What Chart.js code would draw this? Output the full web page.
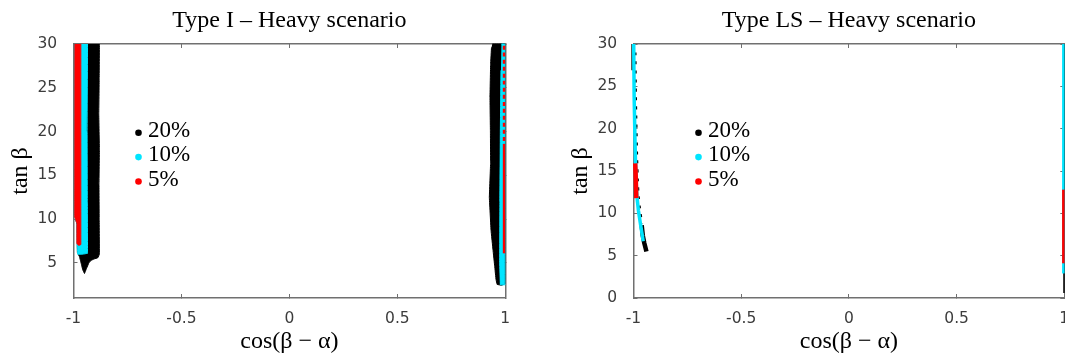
<!DOCTYPE html>
<html>
<head>
<meta charset="utf-8">
<title>Type I / Type LS – Heavy scenario</title>
<script src="https://cdn.jsdelivr.net/npm/chart.js@4.4.1/dist/chart.umd.min.js"></script>
<style>
  html, body { margin: 0; padding: 0; background: #fff; }
  #wrap { position: relative; width: 1065px; height: 356px; overflow: hidden; }
  canvas { position: absolute; top: 0; }
  #typeI { left: 0; }
  #typeLS { left: 540px; }
</style>
</head>
<body>
<div id="wrap">
  <canvas id="typeI" width="540" height="356"></canvas>
  <canvas id="typeLS" width="525" height="356"></canvas>
</div>
<script>
'use strict'

// Axis ticks
const xTicks = [-1, -0.5, 0, 0.5, 1];
const yTicksI = [5, 10, 15, 20, 25, 30];
const yTicksLS = [0, 5, 10, 15, 20, 25, 30];

const legendLabels = ['20%', '10%', '5%'];

// Type I – allowed regions, [cos(beta-alpha), tan beta]
// wrong-sign side (cos near -1): outline from top-left, down, round the bottom, up to top-right
const typeI_neg20 = [[-0.994, 30], [-0.994, 10.4], [-0.984, 9.4], [-0.982, 6.2], [-0.972, 5.7], [-0.964, 4.9], [-0.957, 4.2], [-0.949, 3.8], [-0.941, 4.3], [-0.929, 5.0], [-0.918, 5.3], [-0.905, 5.45], [-0.887, 5.6], [-0.880, 6.0], [-0.881, 10], [-0.882, 14], [-0.880, 18], [-0.883, 22], [-0.881, 26], [-0.880, 30]];
const typeI_neg10 = [[-0.994, 30], [-0.994, 10.3], [-0.984, 9.5], [-0.983, 7.0], [-0.981, 6.0], [-0.958, 6.0], [-0.935, 6.1], [-0.936, 12], [-0.937, 20], [-0.935, 30]];
const typeI_neg5 = [[-0.9935, 30], [-0.9935, 10.2], [-0.984, 9.5], [-0.984, 7.2], [-0.975, 7.0], [-0.966, 7.1], [-0.966, 12], [-0.966, 20], [-0.966, 30]];
// alignment side (cos near 1)
const typeI_pos20 = [[0.940, 30], [0.998, 30], [0.998, 2.6], [0.982, 2.45], [0.962, 2.55], [0.957, 3.1], [0.951, 4.6], [0.943, 6.5], [0.934, 8.7], [0.926, 12.5], [0.932, 16.4], [0.931, 20.1], [0.929, 23.9], [0.932, 27.7], [0.936, 29.6]];
const typeI_pos10 = [[0.982, 30], [0.998, 30], [0.998, 2.5], [0.977, 2.5], [0.974, 5], [0.975, 12], [0.977, 20], [0.980, 27]];
const typeI_pos5_top = [[0.994, 29.8], [0.994, 18.6]];
const typeI_pos5_low = [[0.994, 18.6], [0.994, 6.1]];

// Type LS – allowed regions
const typeLS_neg10 = [[-0.999, 30], [-0.997, 23.8], [-0.994, 19.8], [-0.991, 16.3], [-0.988, 13.9], [-0.985, 12.2], [-0.977, 10.3], [-0.968, 8.8], [-0.963, 8.0], [-0.958, 7.2], [-0.955, 6.7]];
const typeLS_neg20_edge = [[-0.993, 29], [-0.991, 23.8], [-0.988, 19.8], [-0.985, 16.3], [-0.982, 13.9], [-0.979, 12.2], [-0.971, 10.3], [-0.962, 8.8]];
const typeLS_neg20_tail = [[-0.962, 8.6], [-0.957, 7.4], [-0.950, 6.5], [-0.944, 5.9], [-0.940, 5.5]];
const typeLS_neg20_top = [[-1.003, 30], [-1.003, 26.9]];
const typeLS_neg5 = [[-0.992, 15.9], [-0.990, 14.7], [-0.987, 11.8]];
const typeLS_pos20 = [[0.9985, 30], [0.9985, 0.6]];
const typeLS_pos10 = [[0.9955, 30], [0.9955, 2.9]];
const typeLS_pos5 = [[0.9955, 12.8], [0.9955, 4.1]];

const BLACK = '#000000';
const CYAN = '#00e5ff';
const RED = '#ff0000';
const FRAME = '#707070';
const TICK = '#3c3c3c';
const legendColors = [BLACK, CYAN, RED];

const tickFont = {family: 'DejaVu Sans', size: 15.5};
const serif = size => ({family: 'Liberation Serif', size: size, weight: 'normal'});
const pts = arr => arr.map(([x, y]) => ({x, y}));

// filled outline of a scan region
// (tiny tension keeps chart.js off its fast path, which merges points sharing an x pixel)
function area(data, color, order) {
    return {data: pts(data), showLine: true, fill: 'shape', backgroundColor: color, borderColor: color,
        borderWidth: 1, tension: 0.001, pointRadius: 0, order: order, clip: false, xAxisID: 'x', yAxisID: 'y'};
}

// thin strip of points, drawn as a stroke
function strip(data, color, order, width, dash) {
    return {data: pts(data), showLine: true, fill: false, borderColor: color, borderWidth: width,
        borderDash: dash || [], borderCapStyle: 'butt', tension: 0.001, pointRadius: 0, order: order,
        clip: false, xAxisID: 'x', yAxisID: 'y'};
}

const legendPlugin = {
    id: 'bandLegend',
    afterDraw(chart) {
        const {ctx, chartArea} = chart;
        ctx.save();
        ctx.font = '23px "Liberation Serif"';
        ctx.textBaseline = 'alphabetic';
        legendLabels.forEach((label, i) => {
            const cx = chartArea.left + 65;
            const base = chartArea.top + 92.7 + i * 24.4;
            ctx.fillStyle = legendColors[i];
            ctx.beginPath();
            ctx.arc(cx, base - 4, 3.3, 0, Math.PI * 2);
            ctx.fill();
            ctx.fillStyle = '#000';
            ctx.fillText(label, cx + 9.5, base);
        });
        ctx.restore();
    }
};

function frameAxis(pos, min, max, tickValues) {
    return {
        type: 'linear', position: pos, min: min, max: max,
        afterBuildTicks: s => { s.ticks = tickValues.map(v => ({value: v})); },
        afterFit: s => {
            if (s.isHorizontal()) s.height = 0; else s.width = 0;
            s.paddingLeft = s.paddingRight = s.paddingTop = s.paddingBottom = 0;
        },
        ticks: {display: false},
        grid: {drawOnChartArea: false, tickLength: -4, color: FRAME},
        border: {color: FRAME, width: 1.5}
    };
}

function makeChart(id, title, yMin, yTicks, datasets, pad) {
    return new Chart(document.getElementById(id), {
        type: 'scatter',
        data: {datasets: datasets},
        options: {
            responsive: false,
            animation: false,
            events: [],
            indexAxis: 'y',
            layout: {padding: pad},
            plugins: {
                legend: {display: false},
                tooltip: {enabled: false},
                title: {display: true, text: title, fullSize: false, font: serif(24), color: '#000',
                    padding: {top: 6, bottom: 9.2}}
            },
            scales: {
                x: {
                    type: 'linear', position: 'bottom', min: -1, max: 1,
                    afterBuildTicks: s => { s.ticks = xTicks.map(v => ({value: v})); },
                    afterFit: s => { s.height = 58; s.paddingLeft = 0; s.paddingRight = 0; },
                    ticks: {font: tickFont, color: TICK, padding: 15.7, maxRotation: 0, autoSkip: false,
                        callback: v => String(v)},
                    grid: {drawOnChartArea: false, tickLength: -4, color: FRAME},
                    border: {color: FRAME, width: 1.5},
                    title: {display: true, text: 'cos(β − α)', font: serif(24), color: '#000',
                        padding: {top: 0, bottom: 0}}
                },
                x2: frameAxis('top', -1, 1, xTicks),
                y: {
                    type: 'linear', position: 'left', min: yMin, max: 30,
                    afterBuildTicks: s => { s.ticks = yTicks.map(v => ({value: v})); },
                    afterFit: s => { s.width = 73.5; s.paddingTop = 0; s.paddingBottom = 0; },
                    ticks: {font: tickFont, color: TICK, padding: 20.3, autoSkip: false,
                        callback: v => String(v)},
                    grid: {drawOnChartArea: false, tickLength: -4, color: FRAME},
                    border: {color: FRAME, width: 1.5},
                    title: {display: true, text: 'tan β', font: serif(24), color: '#000',
                        padding: {top: 6.5, bottom: 0}}
                },
                y2: frameAxis('right', yMin, 30, yTicks)
            }
        },
        plugins: [legendPlugin]
    });
}

makeChart('typeI', 'Type I – Heavy scenario', 1, yTicksI, [
    area(typeI_neg5, RED, 1),
    area(typeI_neg10, CYAN, 2),
    area(typeI_neg20, BLACK, 3),
    strip(typeI_pos5_top, RED, 1, 2.4, [4, 3]),
    strip(typeI_pos5_low, RED, 1, 2.4),
    area(typeI_pos10, CYAN, 2),
    area(typeI_pos20, BLACK, 3)
], {left: 0, right: 34.7, top: 0, bottom: 0});

makeChart('typeLS', 'Type LS – Heavy scenario', 0, yTicksLS, [
    strip(typeLS_neg5, RED, 1, 4.5),
    strip(typeLS_neg10, CYAN, 2, 3.5),
    strip(typeLS_neg20_edge, BLACK, 3, 3, [3, 6]),
    strip(typeLS_neg20_tail, BLACK, 3, 4.5),
    strip(typeLS_neg20_top, BLACK, 3, 3),
    strip(typeLS_pos5, RED, 1, 2.5),
    strip(typeLS_pos10, CYAN, 2, 2.5),
    strip(typeLS_pos20, BLACK, 3, 1.5)
], {left: 20, right: 0.7, top: 0, bottom: 0});
</script>
</body>
</html>
